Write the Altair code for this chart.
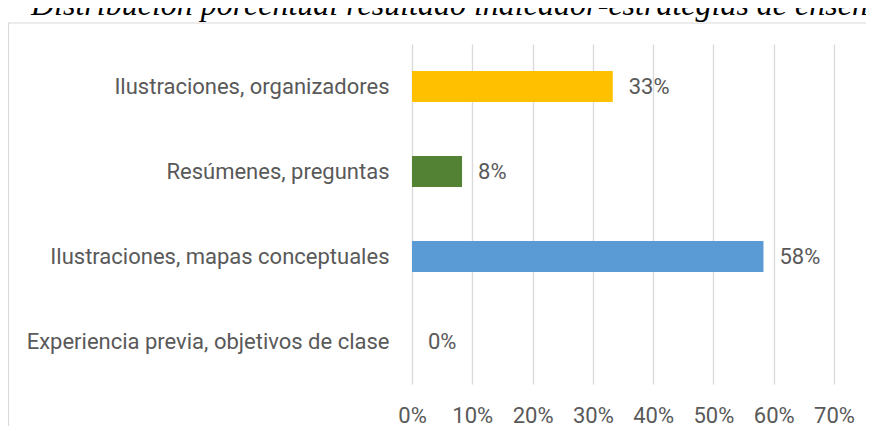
import altair as alt
import pandas as pd

categories = [
    "Ilustraciones, organizadores",
    "Resúmenes, preguntas",
    "Ilustraciones, mapas conceptuales",
    "Experiencia previa, objetivos de clase",
]
values = [0.333, 0.083, 0.583, 0.0]
labels = ["33%", "8%", "58%", "0%"]
colors = ["#FFC000", "#548235", "#5B9BD5", "#A5A5A5"]
x_ticks = [0, 0.1, 0.2, 0.3, 0.4, 0.5, 0.6, 0.7]
title_text = "Distribución porcentual resultado indicador-estrategias de enseñanza"

FONT = "Roboto"
FS = 22
GRAY = "#595959"

df = pd.DataFrame({"cat": categories, "val": values, "lab": labels, "col": colors})

W, H = 422, 340

y_enc = alt.Y(
    "cat:N",
    sort=categories,
    scale=alt.Scale(paddingInner=0.635, paddingOuter=0.3175),
    axis=alt.Axis(
        title=None, domain=False, ticks=False, labelPadding=23,
        labelFont=FONT, labelFontSize=FS, labelColor=GRAY, labelLimit=400,
    ),
)
x_enc = alt.X(
    "val:Q",
    scale=alt.Scale(domain=[0, 0.7], nice=False),
    axis=alt.Axis(
        title=None, values=x_ticks, format=".0%", domain=False, ticks=False,
        grid=True, gridColor="#d9d9d9", gridWidth=1.3,
        labelFont=FONT, labelFontSize=FS, labelColor=GRAY,
        labelPadding=21, labelFlush=False,
    ),
)

bars = alt.Chart(df).mark_bar().encode(
    x=x_enc, y=y_enc,
    color=alt.Color("col:N", scale=None, legend=None),
)

texts = alt.Chart(df).mark_text(
    align="left", baseline="middle", dx=16, font=FONT, fontSize=FS, color=GRAY
).encode(x="val:Q", y=alt.Y("cat:N", sort=categories), text="lab:N")

frame_df = pd.DataFrame({"f": [1]})
frame = alt.Chart(frame_df).mark_rect(
    fill=None, stroke="#d9d9d9", strokeWidth=1.2
).encode(
    x=alt.value(-403.5), x2=alt.value(W + 200),
    y=alt.value(-21), y2=alt.value(H + 200),
)

title_df = pd.DataFrame({"t": [title_text]})
title = alt.Chart(title_df).mark_text(
    align="left", baseline="alphabetic", font="Liberation Serif",
    fontStyle="italic", fontSize=32, color="#000000",
).encode(x=alt.value(-381), y=alt.value(-29), text="t:N")

chart = alt.layer(frame, bars, texts, title).properties(
    width=W, height=H,
    autosize=alt.AutoSizeParams(type="none"),
    padding={"left": 404, "top": 36, "right": 32, "bottom": 42},
).configure_view(stroke=None)

chart.save("out.html", embed_options={"renderer": "svg", "actions": False})
